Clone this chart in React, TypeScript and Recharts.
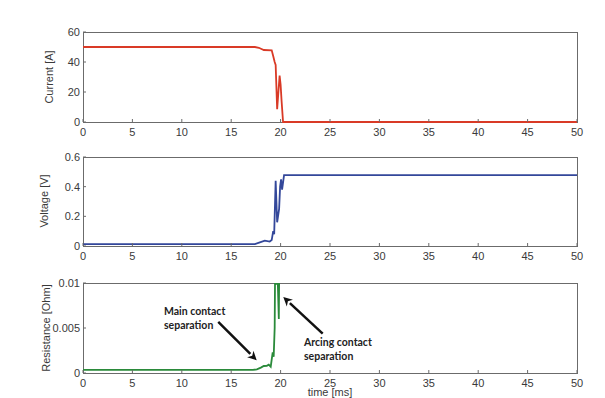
import { LineChart, Line, XAxis, YAxis, ReferenceLine } from "recharts"

const timeTicks = [0, 5, 10, 15, 20, 25, 30, 35, 40, 45, 50]

const currentTime = [0, 17.4, 17.8, 18.3, 19.1, 19.25, 19.4, 19.5, 19.65, 19.9, 20.0, 20.1, 20.25, 50]
const currentAmps = [50, 50, 49.5, 48, 47.8, 44, 40, 38, 8.5, 31, 25, 14, 0, 0]

const voltageTime = [0, 17.4, 17.9, 18.4, 18.9, 19.1, 19.25, 19.35, 19.5, 19.65, 19.85, 19.95, 20.05, 20.15, 20.35, 50]
const voltageVolts = [0.012, 0.013, 0.025, 0.036, 0.03, 0.04, 0.1, 0.08, 0.44, 0.16, 0.25, 0.4, 0.45, 0.38, 0.478, 0.478]

const resistTime = [0, 17.2, 17.6, 18.0, 18.3, 18.6, 18.8, 19.0, 19.2, 19.3, 19.4, 19.5, 19.56, 19.62, 19.72, 19.82, 19.92]
const resistOhm = [0.00035, 0.00035, 0.0004, 0.0006, 0.00078, 0.0008, 0.00093, 0.0007, 0.0023, 0.0018, 0.005, 0.02, 0.0098, 0.02, 0.0099, 0.006, 0.02]

const currentTicks = [0, 20, 40, 60]
const voltageTicks = [0, 0.2, 0.4, 0.6]
const resistTicks = [0, 0.005, 0.01]

// arrows in data coords of the resistance panel: [from, to]
const mainArrow = [{ x: 13.69, y: 0.00567 }, { x: 17.58, y: 0.00141 }]
const arcArrow = [{ x: 24.26, y: 0.00438 }, { x: 20.27, y: 0.00844 }]

const toRows = (t: number[], y: number[]) => t.map((v, i) => ({ t: v, y: y[i] }))

const axisColor = "#6b6b6b"
const font = "Liberation Sans"
const tickStyle = { fontSize: 11, fill: "#3a3a3a", fontFamily: font }

const Arrow = (p: any) => {
  const { x1, y1, x2, y2 } = p
  const ang = Math.atan2(y2 - y1, x2 - x1)
  const len = 9
  const w = 4.5
  const bx = x2 - len * Math.cos(ang)
  const by = y2 - len * Math.sin(ang)
  const px = -Math.sin(ang) * w
  const py = Math.cos(ang) * w
  return (
    <g>
      <line x1={x1} y1={y1} x2={bx} y2={by} stroke="#111" strokeWidth={2.5} />
      <polygon
        points={`${x2},${y2} ${bx + px},${by + py} ${bx + len * 0.3 * Math.cos(ang)},${by + len * 0.3 * Math.sin(ang)} ${bx - px},${by - py}`}
        fill="#111"
      />
    </g>
  )
}

interface PanelProps {
  top: number
  height: number
  data: { t: number; y: number }[]
  color: string
  yTicks: number[]
  clip?: boolean
  children?: any
}

function Panel({ top, height, data, color, yTicks, clip, children }: PanelProps) {
  const domain = [yTicks[0], yTicks[yTicks.length - 1]]
  return (
    <div style={{ position: "absolute", left: 0, top, width: 605, height }}>
      {/* box drawn behind the svg so the trace sits on top of the frame */}
      <div
        style={{
          position: "absolute",
          left: 82.5,
          top: 31.5,
          width: 495,
          height: height - 18 - 32 + 1,
          border: `1px solid ${axisColor}`,
          boxSizing: "border-box",
        }}
      />
      <div style={{ position: "absolute", left: 0, top: 0 }}>
        <LineChart width={605} height={height} data={data} margin={{ top: 32, right: 28, bottom: 0, left: 0 }}>
          <XAxis
            xAxisId="b"
            dataKey="t"
            type="number"
            domain={[0, 50]}
            ticks={timeTicks}
            interval={0}
            height={18}
            stroke={axisColor}
            axisLine={false}
            tickSize={-3}
            tickMargin={9}
            tick={tickStyle}
          />
          <XAxis
            xAxisId="t"
            dataKey="t"
            type="number"
            orientation="top"
            domain={[0, 50]}
            ticks={timeTicks}
            interval={0}
            height={0}
            stroke={axisColor}
            axisLine={false}
            tickSize={-3}
            tickFormatter={() => ""}
          />
          <YAxis
            yAxisId="l"
            type="number"
            domain={domain}
            ticks={yTicks}
            interval={0}
            allowDataOverflow={!!clip}
            width={83}
            stroke={axisColor}
            axisLine={false}
            tickSize={-3}
            tickMargin={6}
            tick={tickStyle}
          />
          <YAxis
            yAxisId="r"
            orientation="right"
            type="number"
            domain={domain}
            ticks={yTicks}
            interval={0}
            width={0}
            stroke={axisColor}
            axisLine={false}
            tickSize={-3}
            tickFormatter={() => ""}
          />
          <Line
            xAxisId="b"
            yAxisId="l"
            type="linear"
            dataKey="y"
            stroke={color}
            strokeWidth={1.8}
            dot={false}
            isAnimationActive={false}
          />
          {children}
        </LineChart>
      </div>
    </div>
  )
}

const vLabel = (text: string, x: number, y: number) => (
  <div
    style={{
      position: "absolute",
      left: x,
      top: y,
      transform: "translate(-50%, -50%) rotate(-90deg)",
      whiteSpace: "nowrap",
      fontFamily: font,
      fontSize: 11,
      color: "#3a3a3a",
    }}
  >
    {text}
  </div>
)

const noteStyle = {
  position: "absolute" as const,
  fontFamily: "Lato, sans-serif",
  fontWeight: 700,
  fontSize: 10.5,
  lineHeight: "14px",
  color: "#222",
}

export default function App() {
  return (
    <div style={{ position: "absolute", left: 0, top: 0, width: 605, height: 398, background: "#fff", overflow: "hidden" }}>
      <Panel top={0} height={140} data={toRows(currentTime, currentAmps)} color="#d93a26" yTicks={currentTicks} />
      <Panel top={125} height={139} data={toRows(voltageTime, voltageVolts)} color="#33479a" yTicks={voltageTicks} />
      <Panel top={251} height={140} data={toRows(resistTime, resistOhm)} color="#2a8a3a" yTicks={resistTicks} clip>
        <ReferenceLine xAxisId="b" yAxisId="l" segment={mainArrow} shape={Arrow} />
        <ReferenceLine xAxisId="b" yAxisId="l" segment={arcArrow} shape={Arrow} />
      </Panel>
      {vLabel("Current [A]", 49, 77)}
      {vLabel("Voltage [V]", 44, 201)}
      {vLabel("Resistance [Ohm]", 46, 328)}
      <div style={{ ...noteStyle, left: 164, top: 304 }}>
        Main contact
        <br />
        separation
      </div>
      <div style={{ ...noteStyle, left: 304, top: 335 }}>
        Arcing contact
        <br />
        separation
      </div>
      <div
        style={{
          position: "absolute",
          left: 330,
          top: 387,
          transform: "translateX(-50%)",
          fontFamily: font,
          fontSize: 11,
          lineHeight: "11px",
          color: "#3a3a3a",
          whiteSpace: "nowrap",
        }}
      >
        time [ms]
      </div>
    </div>
  )
}
